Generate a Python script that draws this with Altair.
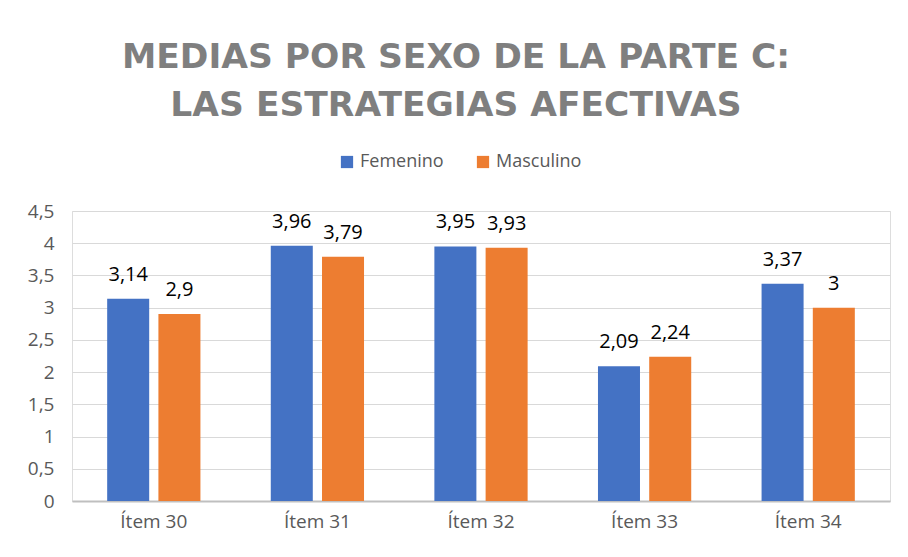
import altair as alt
import pandas as pd

items = ["Ítem 30", "Ítem 31", "Ítem 32", "Ítem 33", "Ítem 34"]
femenino = [3.14, 3.96, 3.95, 2.09, 3.37]
masculino = [2.9, 3.79, 3.93, 2.24, 3.0]
series = ["Femenino", "Masculino"]
colors = ["#4472C4", "#ED7D31"]
y_ticks = [0, 0.5, 1, 1.5, 2, 2.5, 3, 3.5, 4, 4.5]

rows = []
for i, it in enumerate(items):
    rows.append({"item": it, "sexo": series[0], "valor": femenino[i]})
    rows.append({"item": it, "sexo": series[1], "valor": masculino[i]})
df = pd.DataFrame(rows)

W, H = 818, 290

x = alt.X("item:N", sort=items, title=None,
          scale=alt.Scale(paddingInner=0.43, paddingOuter=0.215),
          axis=alt.Axis(labelAngle=0, labelFontSize=19, labelColor="#595959",
                        labelFont="Open Sans", ticks=False, domainColor="#BFBFBF",
                        domainWidth=2, labelPadding=11))
xo = alt.XOffset("sexo:N", sort=series,
                 scale=alt.Scale(paddingInner=0.18, paddingOuter=0))
y = alt.Y("valor:Q", title=None,
          scale=alt.Scale(domain=[0, 4.5], nice=False),
          axis=alt.Axis(values=y_ticks, labelFontSize=19, labelColor="#595959",
                        labelFont="Open Sans", ticks=False, domain=False,
                        gridColor="#D9D9D9", labelPadding=18,
                        labelExpr="replace(toString(datum.value), '.', ',')"))

base = alt.Chart(df)
bars = base.mark_bar().encode(
    x=x, xOffset=xo, y=y,
    color=alt.Color("sexo:N", sort=series,
                    scale=alt.Scale(domain=series, range=colors),
                    legend=alt.Legend(title=None, orient="none", direction="horizontal",
                                      legendX=266, legendY=-58, symbolType="square",
                                      symbolSize=150, labelFontSize=18,
                                      labelColor="#595959", labelFont="Open Sans",
                                      columnPadding=30, symbolOpacity=1)),
)
labels = base.mark_text(baseline="bottom", dy=-14, fontSize=20,
                        font="Open Sans", color="#000000").transform_calculate(
    lab="replace(toString(datum.valor), '.', ',')"
).encode(x=x, xOffset=xo, y=y, text="lab:N")

chart = (bars + labels).properties(
    width=W, height=H,
    title=alt.TitleParams(
        text=["MEDIAS POR SEXO DE LA PARTE C:", "LAS ESTRATEGIAS AFECTIVAS"],
        fontSize=34.5, font="DejaVu Sans", fontWeight="bold", color="#7F7F7F",
        lineHeight=48, anchor="middle", dx=-25, offset=80, dy=50),
    autosize=alt.AutoSizeParams(type="none"),
    padding={"left": 64, "top": 203, "right": 10, "bottom": 40},
).configure_view(stroke=None).configure(background="white")

chart.save("out.html", embed_options={"renderer": "svg", "actions": False})
